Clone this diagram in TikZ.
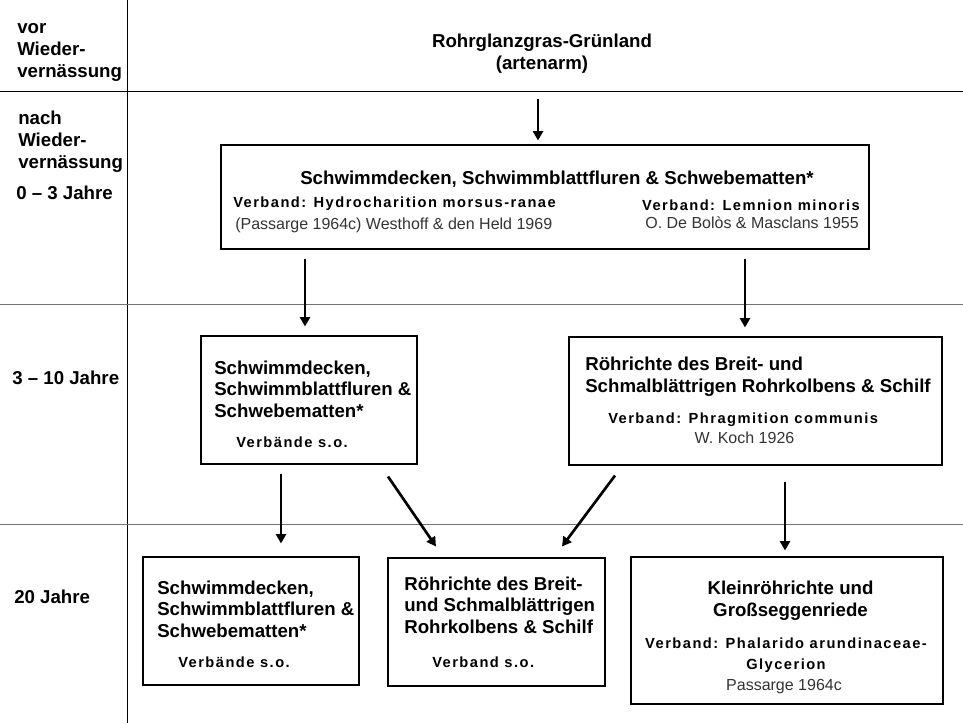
\documentclass[tikz,border=0pt]{standalone}
\usepackage{fontspec}
\setmainfont{Liberation Sans}
\newfontfamily\vbfont[LetterSpace=10]{Liberation Sans}
\usetikzlibrary{arrows.meta,calc,fit}
\begin{document}
\begin{tikzpicture}[
    x=0.75pt, y=-0.75pt,
    rule/.style={line width=0.75pt},
    softrule/.style={line width=0.75pt, black!55},
    box/.style={draw, line width=0.8pt, inner sep=0pt},
    phase/.style={font=\fontsize{14}{16.5}\selectfont\bfseries, inner sep=0pt, align=left},
    heading/.style={font=\fontsize{14}{16.2}\selectfont\bfseries, inner sep=0pt},
    verband/.style={font=\vbfont\bfseries\fontsize{11}{15.8}\selectfont, inner sep=0pt},
    source/.style={font=\fontsize{12}{14}\selectfont, text=black!80, inner sep=0pt},
    arr/.style={line width=2pt, -{Triangle[length=7pt,width=7.5pt]}}
]
\useasboundingbox (0,0) rectangle (963,723);

\draw[rule] (127,0) -- (127,723);
\draw[rule] (0,92) -- (963,92);
\draw[softrule] (0,305) -- (963,305);
\draw[softrule] (0,524) -- (963,524);

\node[phase, anchor=west] (vor) at (17,52) {vor\\Wieder-\\vernässung};
\node[phase, anchor=west] (nach) at (18,142) {nach\\Wieder-\\vernässung};
\node[phase, anchor=base west] (p1) at (16,200) {0 – 3 Jahre};
\node[phase, anchor=base west] (p2) at (12,384) {3 – 10 Jahre};
\node[phase, anchor=base west] (p3) at (14,603) {20 Jahre};

\node[phase, align=center] (grass) at (542,54) {Rohrglanzgras-Grünland\\(artenarm)};

\node[box, fit={(221,145) (869,249)}] (b1) {};
\node[box, fit={(201,336) (417,464)}] (b2l) {};
\node[box, fit={(569,337) (942,465)}] (b2r) {};
\node[box, fit={(143,557) (359,685)}] (b3a) {};
\node[box, fit={(388,558) (605,686)}] (b3b) {};
\node[box, fit={(631,557) (943,704)}] (b3c) {};

\node[heading, anchor=base] (b1ttl) at (557,185) {Schwimmdecken, Schwimmblattfluren \& Schwebematten*};
\node[verband, anchor=base west] (b1vl) at (233,208) {Verband: Hydrocharition morsus-ranae};
\node[source, anchor=base west] (b1sl) at (235,230) {(Passarge 1964c) Westhoff \& den Held 1969};
\node[verband, anchor=base east] (b1vr) at (860,211) {Verband: Lemnion minoris};
\node[source, anchor=base east] (b1sr) at (859,229) {O. De Bolòs \& Masclans 1955};

\node[heading, align=left, anchor=west] (b2lttl) at (214,389) {Schwimmdecken,\\Schwimmblattfluren \&\\Schwebematten*};
\node[verband, anchor=base west] (b2lvb) at (236,447) {Verbände s.o.};

\node[heading, align=left, anchor=west] (b2rttl) at (585,377) {Röhrichte des Breit- und\\Schmalblättrigen Rohrkolbens \& Schilf};
\node[verband, anchor=base west] (b2rvb) at (608,423) {Verband: Phragmition communis};
\node[source, anchor=base] (b2rsrc) at (744.5,443) {W. Koch 1926};

\node[heading, align=left, anchor=west] (b3attl) at (157,609) {Schwimmdecken,\\Schwimmblattfluren \&\\Schwebematten*};
\node[verband, anchor=base west] (b3avb) at (178,667) {Verbände s.o.};

\node[heading, align=left, anchor=west] (b3bttl) at (404,605) {Röhrichte des Breit-\\und Schmalblättrigen\\Rohrkolbens \& Schilf};
\node[verband, anchor=base west] (b3bvb) at (432,667) {Verband s.o.};

\node[heading, align=center] (b3cttl) at (790.5,601) {Kleinröhrichte und\\Großseggenriede};
\node[verband, align=center] (b3cvb) at (786,655) {Verband: Phalarido arundinaceae-\\Glycerion};
\node[source, anchor=base] (b3csrc) at (784,690) {Passarge 1964c};

\draw[arr] ($(grass.south)+(-4,25)$) -- ($(b1.north)+(-7,-4)$);
\draw[arr] ($(b1.south)+(-240,9)$) -- ($(b2l.north)+(-4,-9)$);
\draw[arr] ($(b1.south)+(200,9)$) -- ($(b2r.north)+(-10.5,-9)$);
\draw[arr] ($(b2l.south)+(-28,9)$) -- ($(b3a.north)+(30,-13)$);
\draw[arr] ($(b2l.south)+(79,12)$) -- ($(b3b.north)+(-60.5,-11)$);
\draw[arr] ($(b2r.south)+(-140.5,10)$) -- ($(b3b.north)+(65.5,-11)$);
\draw[arr] ($(b2r.south)+(29.5,16)$) -- ($(b3c.north)+(-2,-6)$);

\end{tikzpicture}
\end{document}
